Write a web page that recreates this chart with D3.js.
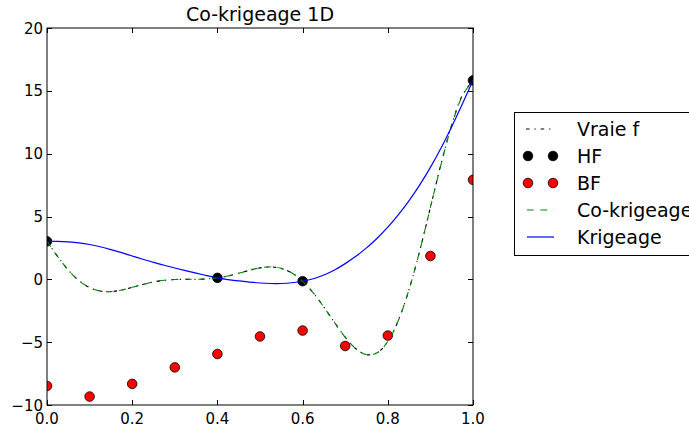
<!DOCTYPE html>
<html>
<head>
<meta charset="utf-8">
<script src="https://cdn.jsdelivr.net/npm/d3@7"></script>
<style>
  html, body { margin: 0; padding: 0; background: #fff; }
  svg { display: block; font-family: "DejaVu Sans", sans-serif; }
</style>
</head>
<body>
<svg id="chart" width="689" height="428"></svg>
<script>
// Sample positions along x for the continuous curves
const xGrid = [0, 0.025, 0.05, 0.075, 0.1, 0.125, 0.15, 0.175, 0.2, 0.225, 0.25, 0.275,
  0.3, 0.325, 0.35, 0.375, 0.4, 0.425, 0.45, 0.475, 0.5, 0.525, 0.55, 0.575, 0.6, 0.625,
  0.65, 0.675, 0.7, 0.725, 0.75, 0.775, 0.8, 0.825, 0.85, 0.875, 0.9, 0.925, 0.95, 0.975, 1.0];

// True function
const trueF = [3.027, 1.813, 0.738, -0.100, -0.657, -0.935, -0.978, -0.854, -0.640, -0.407,
  -0.210, -0.079, -0.016, 0.000, 0.002, 0.030, 0.115, 0.270, 0.483, 0.717, 0.909, 0.986,
  0.871, 0.503, -0.149, -1.074, -2.209, -3.439, -4.606, -5.522, -5.993, -5.845, -4.949,
  -3.254, -0.799, 2.272, 5.712, 9.187, 12.303, 14.648, 15.830];

// Co-kriging prediction
const coKrig = [3.027, 1.810, 0.735, -0.102, -0.657, -0.934, -0.977, -0.853, -0.639, -0.406,
  -0.209, -0.078, -0.015, 0.001, 0.003, 0.031, 0.115, 0.271, 0.484, 0.718, 0.910, 0.987,
  0.872, 0.504, -0.149, -1.073, -2.208, -3.438, -4.605, -5.521, -5.992, -5.844, -4.949,
  -3.250, -0.790, 2.280, 5.720, 9.150, 12.250, 14.600, 15.830];

// Kriging prediction from the high-fidelity points only
const krig = [3.03, 3.02, 2.98, 2.90, 2.77, 2.59, 2.37, 2.12, 1.86, 1.60, 1.35, 1.12,
  0.90, 0.69, 0.49, 0.30, 0.11, -0.02, -0.13, -0.22, -0.29, -0.33, -0.33, -0.27, -0.15,
  0.05, 0.35, 0.75, 1.25, 1.83, 2.50, 3.27, 4.15, 5.15, 6.27, 7.52, 8.91, 10.45, 12.15,
  13.95, 15.83];

// High-fidelity samples
const hfX = [0, 0.4, 0.6, 1.0];
const hfY = [3.027, 0.115, -0.149, 15.830];

// Low-fidelity samples
const bfX = [0, 0.1, 0.2, 0.3, 0.4, 0.5, 0.6, 0.7, 0.8, 0.9, 1.0];
const bfY = [-8.486, -9.329, -8.320, -7.008, -5.942, -4.545, -4.075, -5.303, -4.475, 1.856, 7.915];

const xTicks = [0, 0.2, 0.4, 0.6, 0.8, 1.0];
const yTicks = [-10, -5, 0, 5, 10, 15, 20];

const legendLabels = ["Vraie f", "HF", "BF", "Co-krigeage", "Krigeage"];

const svg = d3.select("#chart");
const plot = { left: 47, right: 473, top: 28, bottom: 405 };

const x = d3.scaleLinear().domain([0, 1]).range([plot.left, plot.right]);
const y = d3.scaleLinear().domain([-10, 20]).range([plot.bottom, plot.top]);

svg.append("defs").append("clipPath").attr("id", "clip")
  .append("rect")
  .attr("x", plot.left).attr("y", plot.top)
  .attr("width", plot.right - plot.left).attr("height", plot.bottom - plot.top);

const g = svg.append("g").attr("clip-path", "url(#clip)");

const line = d3.line()
  .x(d => x(d[0])).y(d => y(d[1]))
  .curve(d3.curveCatmullRom.alpha(0.5));

const pairs = arr => xGrid.map((xv, i) => [xv, arr[i]]);

// Curves
g.append("path").attr("d", line(pairs(trueF)))
  .attr("fill", "none").attr("stroke", "#000").attr("stroke-width", 1.1)
  .attr("stroke-dasharray", "3.5,5,1.2,5");

// Points
g.selectAll(".hf").data(hfX).join("circle")
  .attr("cx", d => x(d)).attr("cy", (d, i) => y(hfY[i]))
  .attr("r", 4.8).attr("fill", "#000").attr("stroke", "#000").attr("stroke-width", 0.8);

g.selectAll(".bf").data(bfX).join("circle")
  .attr("cx", d => x(d)).attr("cy", (d, i) => y(bfY[i]))
  .attr("r", 4.8).attr("fill", "#ff0000").attr("stroke", "#000").attr("stroke-width", 0.8);

g.append("path").attr("d", line(pairs(coKrig)))
  .attr("fill", "none").attr("stroke", "#008000").attr("stroke-width", 1.1)
  .attr("stroke-dasharray", "6.7,6.7");

g.append("path").attr("d", line(pairs(krig)))
  .attr("fill", "none").attr("stroke", "#0000ff").attr("stroke-width", 1.2);

// Axes frame with inward ticks on all sides
const tickLen = 5;
const axisG = svg.append("g").attr("stroke", "#000").attr("stroke-width", 1);
axisG.append("rect")
  .attr("x", plot.left).attr("y", plot.top)
  .attr("width", plot.right - plot.left).attr("height", plot.bottom - plot.top)
  .attr("fill", "none");

xTicks.forEach(t => {
  const px = Math.round(x(t)) + 0.5;
  axisG.append("line").attr("x1", px).attr("x2", px).attr("y1", plot.bottom).attr("y2", plot.bottom - tickLen);
  axisG.append("line").attr("x1", px).attr("x2", px).attr("y1", plot.top).attr("y2", plot.top + tickLen);
});
yTicks.forEach(t => {
  const py = Math.round(y(t)) + 0.5;
  axisG.append("line").attr("x1", plot.left).attr("x2", plot.left + tickLen).attr("y1", py).attr("y2", py);
  axisG.append("line").attr("x1", plot.right).attr("x2", plot.right - tickLen).attr("y1", py).attr("y2", py);
});

const fmtX = d3.format(".1f");
svg.append("g").selectAll("text").data(xTicks).join("text")
  .attr("x", d => x(d)).attr("y", plot.bottom + 19)
  .attr("text-anchor", "middle").attr("font-size", 15).attr("fill", "#000")
  .text(d => fmtX(d));

svg.append("g").selectAll("text").data(yTicks).join("text")
  .attr("x", plot.left - 4).attr("y", d => y(d) + 5.5)
  .attr("text-anchor", "end").attr("font-size", 15).attr("fill", "#000")
  .text(d => d < 0 ? "\u2212" + Math.abs(d) : String(d));

// Title
svg.append("text")
  .attr("x", (plot.left + plot.right) / 2).attr("y", 21)
  .attr("text-anchor", "middle").attr("font-size", 19).attr("fill", "#000")
  .text("Co-krigeage 1D");

// Legend
const leg = svg.append("g");
leg.append("rect").attr("x", 514.5).attr("y", 112.5).attr("width", 190).attr("height", 143)
  .attr("fill", "#fff").attr("stroke", "#000").attr("stroke-width", 1);

const rowY = i => 129 + i * 27;
const sx0 = 528, sx1 = 553;

leg.append("line").attr("x1", sx0 - 2).attr("x2", sx1 + 2).attr("y1", rowY(0)).attr("y2", rowY(0))
  .attr("stroke", "#000").attr("stroke-width", 1.1).attr("stroke-dasharray", "3.5,5,1.2,5");
[sx0, sx1].forEach(cx => {
  leg.append("circle").attr("cx", cx).attr("cy", rowY(1)).attr("r", 4.8)
    .attr("fill", "#000").attr("stroke", "#000").attr("stroke-width", 0.8);
  leg.append("circle").attr("cx", cx).attr("cy", rowY(2)).attr("r", 4.8)
    .attr("fill", "#ff0000").attr("stroke", "#000").attr("stroke-width", 0.8);
});
leg.append("line").attr("x1", sx0 - 1).attr("x2", sx1 + 1).attr("y1", rowY(3)).attr("y2", rowY(3))
  .attr("stroke", "#008000").attr("stroke-width", 1.1).attr("stroke-dasharray", "6.7,6.7");
leg.append("line").attr("x1", sx0 - 1).attr("x2", sx1 + 1).attr("y1", rowY(4)).attr("y2", rowY(4))
  .attr("stroke", "#0000ff").attr("stroke-width", 1.2);

leg.selectAll("text.lbl").data(legendLabels).join("text")
  .attr("x", 577).attr("y", (d, i) => rowY(i) + 7)
  .attr("font-size", 19).attr("fill", "#000")
  .text(d => d);
</script>
</body>
</html>
